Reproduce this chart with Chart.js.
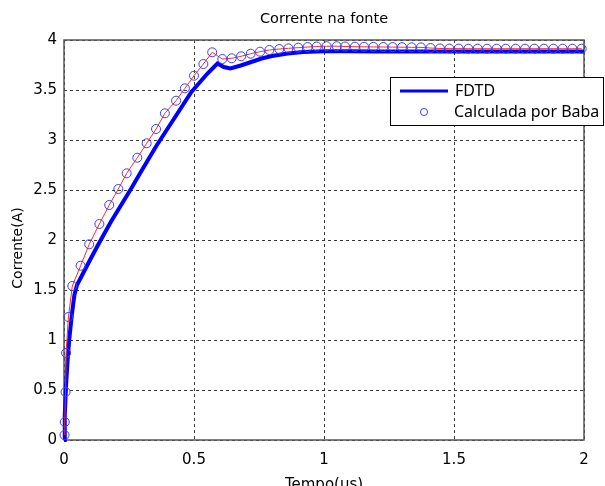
<!DOCTYPE html>
<html>
<head>
<meta charset="utf-8">
<script src="https://cdn.jsdelivr.net/npm/chart.js@4/dist/chart.umd.min.js"></script>
<style>
  html, body { margin: 0; padding: 0; background: #ffffff; }
  canvas { display: block; }
</style>
</head>
<body>
<canvas id="c" width="605" height="486"></canvas>
<script>
// FDTD simulation: source current (A) over time (us)
const fdtdTime = [0, 0.003, 0.008, 0.014, 0.02, 0.03, 0.04, 0.05, 0.062, 0.08, 0.1, 0.135, 0.18,
  0.255, 0.3, 0.355, 0.42, 0.49, 0.55, 0.59, 0.615, 0.64, 0.68, 0.72, 0.76, 0.8, 0.86, 0.92,
  1.0, 1.1, 1.2, 1.4, 1.6, 1.8, 2.0];
const fdtdCurrent = [0, 0.25, 0.55, 0.8, 1.0, 1.25, 1.45, 1.55, 1.61, 1.7, 1.8, 1.97, 2.18,
  2.5, 2.7, 2.94, 3.2, 3.48, 3.66, 3.765, 3.73, 3.715, 3.745, 3.78, 3.815, 3.84, 3.865, 3.88,
  3.888, 3.888, 3.886, 3.885, 3.886, 3.886, 3.886];

// Reference solution (Baba)
const babaTime = [0.002, 0.003, 0.006, 0.008, 0.017, 0.032, 0.064, 0.097, 0.136, 0.174, 0.209,
  0.241, 0.282, 0.318, 0.354, 0.388, 0.431, 0.465, 0.5, 0.536, 0.57, 0.609, 0.645, 0.681,
  0.718, 0.754, 0.79, 0.828, 0.863, 0.901, 0.937, 0.972, 1.01, 1.049, 1.081, 1.119, 1.154,
  1.19, 1.228, 1.264, 1.3, 1.337, 1.373, 1.41, 1.446, 1.482, 1.518, 1.555, 1.591, 1.627,
  1.664, 1.699, 1.737, 1.773, 1.809, 1.846, 1.882, 1.918, 1.955, 1.991];
const babaCurrent = [0.05, 0.18, 0.48, 0.87, 1.23, 1.54, 1.743, 1.957, 2.16, 2.35, 2.51,
  2.667, 2.823, 2.967, 3.11, 3.267, 3.393, 3.517, 3.643, 3.76, 3.877, 3.81, 3.817, 3.837,
  3.863, 3.883, 3.9, 3.91, 3.917, 3.923, 3.93, 3.935, 3.938, 3.938, 3.935, 3.933, 3.932,
  3.931, 3.93, 3.929, 3.928, 3.927, 3.926, 3.92, 3.915, 3.914, 3.914, 3.913, 3.913, 3.913,
  3.913, 3.913, 3.913, 3.913, 3.913, 3.913, 3.913, 3.913, 3.913, 3.913];

const xTicks = [0, 0.5, 1, 1.5, 2];
const yTicks = [0, 0.5, 1, 1.5, 2, 2.5, 3, 3.5, 4];

const seriesNames = ['FDTD', 'Calculada por Baba'];
const titleText = 'Corrente na fonte';
const xLabel = 'Tempo(us)';
const yLabel = 'Corrente(A)';

const toPoints = (xs, ys) => xs.map((x, i) => ({ x: x, y: ys[i] }));

const BLUE = '#0000ff';
const MARKER = '#3c3cff';
const RED = '#ff2a2a';
const AXIS_FONT = 'DejaVu Sans';

// Box around the plotting area, the title centred over it and the vertical axis label
const frame = {
  id: 'frame',
  beforeDatasetsDraw(chart) {
    const { ctx, chartArea: a } = chart;
    ctx.save();
    ctx.strokeStyle = '#555555';
    ctx.lineWidth = 1.5;
    ctx.strokeRect(a.left, a.top, a.right - a.left, a.bottom - a.top);
    ctx.restore();
  },
  afterDraw(chart) {
    const { ctx, chartArea: a } = chart;
    ctx.save();
    ctx.fillStyle = '#000000';
    ctx.font = '14.5px "' + AXIS_FONT + '"';
    ctx.textAlign = 'center';
    ctx.textBaseline = 'middle';
    ctx.fillText(titleText, (a.left + a.right) / 2, 19);

    ctx.font = '14px "' + AXIS_FONT + '"';
    ctx.translate(18, 248);
    ctx.rotate(-Math.PI / 2);
    ctx.fillText(yLabel, 0, 0);
    ctx.restore();
  }
};

// Boxed legend in the upper right
const boxLegend = {
  id: 'boxLegend',
  afterDraw(chart) {
    const { ctx } = chart;
    const ds = chart.data.datasets;
    const x0 = 390, y0 = 77, w = 213, h = 48;
    ctx.save();
    ctx.fillStyle = '#ffffff';
    ctx.fillRect(x0, y0, w, h);
    ctx.strokeStyle = '#000000';
    ctx.lineWidth = 1;
    ctx.strokeRect(x0 + 0.5, y0 + 0.5, w, h);

    ctx.strokeStyle = ds[0].borderColor;
    ctx.lineWidth = 3;
    ctx.beginPath();
    ctx.moveTo(400, 91);
    ctx.lineTo(448, 91);
    ctx.stroke();

    ctx.strokeStyle = ds[1].pointBorderColor;
    ctx.lineWidth = 1;
    ctx.beginPath();
    ctx.arc(424, 112, 3.5, 0, Math.PI * 2);
    ctx.stroke();

    ctx.fillStyle = '#000000';
    ctx.font = '16px "Noto Sans"';
    ctx.textBaseline = 'middle';
    ctx.textAlign = 'left';
    ctx.fillText(ds[0].label, 455, 91);
    ctx.fillText(ds[1].label, 454, 112);
    ctx.restore();
  }
};

new Chart(document.getElementById('c'), {
  type: 'scatter',
  data: {
    datasets: [
      {
        label: seriesNames[0],
        data: toPoints(fdtdTime, fdtdCurrent),
        showLine: true,
        borderColor: BLUE,
        backgroundColor: BLUE,
        borderWidth: 4,
        pointRadius: 0,
        tension: 0,
        order: 2,
        clip: false
      },
      {
        label: seriesNames[1],
        data: toPoints(babaTime, babaCurrent),
        showLine: true,
        borderColor: RED,
        borderWidth: 1,
        pointRadius: 4.5,
        pointBorderWidth: 1,
        pointBorderColor: MARKER,
        pointBackgroundColor: 'rgba(0,0,0,0)',
        tension: 0,
        order: 1,
        clip: false
      }
    ]
  },
  options: {
    responsive: false,
    animation: false,
    devicePixelRatio: 1,
    layout: { padding: { left: 0, right: 21, top: 40, bottom: 0 } },
    plugins: {
      legend: { display: false },
      tooltip: { enabled: false },
      title: { display: false }
    },
    scales: {
      x: {
        type: 'linear',
        min: 0,
        max: 2,
        afterBuildTicks: (s) => { s.ticks = xTicks.map(v => ({ value: v })); },
        afterFit: (s) => { s.height = 46; },
        ticks: {
          color: '#000000',
          padding: 11,
          font: { family: AXIS_FONT, size: 15 },
          callback: (v) => String(v)
        },
        grid: { color: '#3a3a3a', lineWidth: 1, drawTicks: false },
        border: { display: false, dash: [3, 3] },
        title: {
          display: true,
          text: xLabel,
          color: '#000000',
          font: { family: AXIS_FONT, size: 15 },
          padding: { top: 0, bottom: -8 }
        }
      },
      y: {
        type: 'linear',
        min: 0,
        max: 4,
        afterBuildTicks: (s) => { s.ticks = yTicks.map(v => ({ value: v })); },
        afterFit: (s) => { s.width = 64; },
        ticks: {
          color: '#000000',
          padding: 7,
          font: { family: AXIS_FONT, size: 15 },
          callback: (v) => String(v)
        },
        grid: { color: '#3a3a3a', lineWidth: 1, drawTicks: false },
        border: { display: false, dash: [3, 3] },
        title: { display: false }
      }
    }
  },
  plugins: [frame, boxLegend]
});
</script>
</body>
</html>
